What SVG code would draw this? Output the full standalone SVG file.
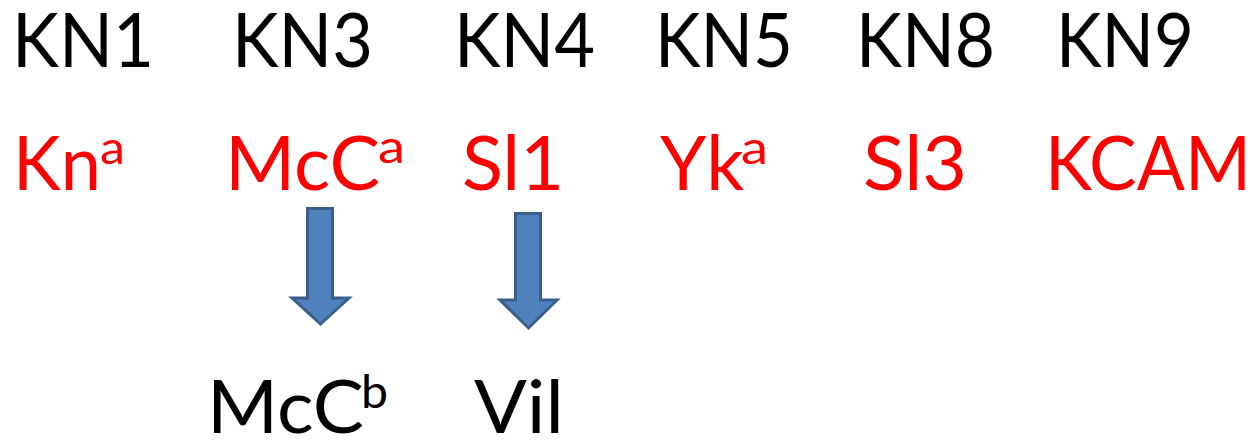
<svg xmlns="http://www.w3.org/2000/svg" width="1256" height="440" viewBox="0 0 1256 440">
<style>
text{font-family:Lato,"Open Sans","Liberation Sans",sans-serif}
.top{font-size:76px;fill:#000}
.red{font-size:76px;fill:#FF0000}
.bot{font-size:73px;fill:#000}
.sup{font-size:46px}
.arrow{fill:#4F81BD;stroke:#3A5F8B;stroke-width:3;stroke-linejoin:miter}
</style>
<rect width="1256" height="440" fill="#fff"/>
<g id="kn1"><text class="top" x="12" y="67" textLength="142" lengthAdjust="spacingAndGlyphs">KN1</text></g>
<g id="kn3"><text class="top" x="232" y="67" textLength="141" lengthAdjust="spacingAndGlyphs">KN3</text></g>
<g id="kn4"><text class="top" x="454" y="67" textLength="141" lengthAdjust="spacingAndGlyphs">KN4</text></g>
<g id="kn5"><text class="top" x="655" y="67" textLength="138" lengthAdjust="spacingAndGlyphs">KN5</text></g>
<g id="kn8"><text class="top" x="856" y="67" textLength="139" lengthAdjust="spacingAndGlyphs">KN8</text></g>
<g id="kn9"><text class="top" x="1056" y="67" textLength="138" lengthAdjust="spacingAndGlyphs">KN9</text></g>

<g id="kna"><text class="red"><tspan x="13" y="190" textLength="88" lengthAdjust="spacingAndGlyphs">Kn</tspan><tspan class="sup" x="100" y="164" textLength="25" lengthAdjust="spacingAndGlyphs">a</tspan></text></g>
<g id="mcca"><text class="red"><tspan x="225" y="190" textLength="155" lengthAdjust="spacingAndGlyphs">McC</tspan><tspan class="sup" x="378" y="163" textLength="27" lengthAdjust="spacingAndGlyphs">a</tspan></text></g>
<g id="sl1"><text class="red" x="462" y="190" textLength="102" lengthAdjust="spacingAndGlyphs">Sl1</text></g>
<g id="yka"><text class="red"><tspan x="660" y="190" textLength="84" lengthAdjust="spacingAndGlyphs">Yk</tspan><tspan class="sup" x="741" y="164" textLength="27" lengthAdjust="spacingAndGlyphs">a</tspan></text></g>
<g id="sl3"><text class="red" x="863" y="190" textLength="104" lengthAdjust="spacingAndGlyphs">Sl3</text></g>
<g id="kcam"><text class="red" x="1045" y="190" textLength="206" lengthAdjust="spacingAndGlyphs">KCAM</text></g>

<g id="mccb"><text class="bot"><tspan x="207" y="433" textLength="157" lengthAdjust="spacingAndGlyphs">McC</tspan><tspan class="sup" x="361" y="408" textLength="27" lengthAdjust="spacingAndGlyphs">b</tspan></text></g>
<g id="vil"><text class="bot" x="474" y="433" textLength="90" lengthAdjust="spacingAndGlyphs">Vil</text></g>

<g id="connectors">
<path class="arrow" d="M307.5,208.5 H332.5 V298 H349 L320.5,324 L292,298 H307.5 Z"/>
<path class="arrow" d="M515.5,213.5 H540.5 V300 H557 L528.5,328 L500,300 H515.5 Z"/>
</g>
</svg>
